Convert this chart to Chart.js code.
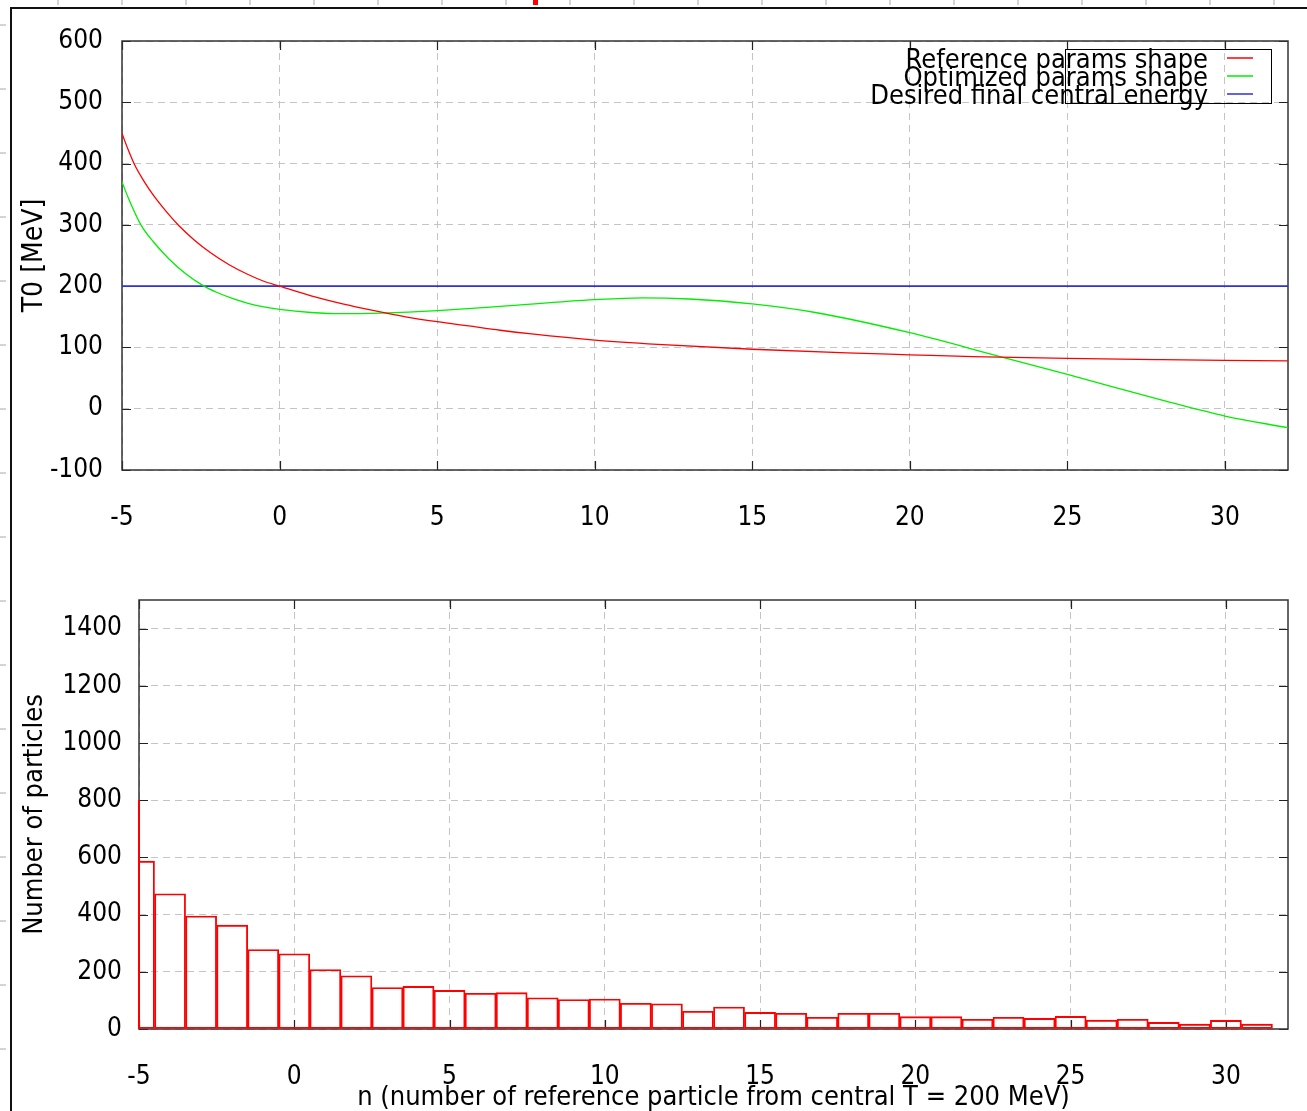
<!DOCTYPE html>
<html>
<head>
<meta charset="utf-8">
<script src="https://cdn.jsdelivr.net/npm/chart.js@4.4.0/dist/chart.umd.min.js"></script>
<style>
  html, body { margin: 0; padding: 0; background: #fff; }
  body { width: 1307px; height: 1111px; position: relative; overflow: hidden; }
  #frame { position: absolute; left: 10px; top: 7px; right: -10px; bottom: -10px;
           border-top: 2px solid #111; border-left: 2px solid #111; }
  #rulerTop { position: absolute; left: 0; top: 0; width: 1307px; height: 5px;
    background: repeating-linear-gradient(90deg, transparent 0, transparent 57px, #d4d4d4 57px, #d4d4d4 59px, transparent 59px, transparent 64px); }
  #rulerLeft { position: absolute; left: 0; top: 0; width: 6px; height: 1111px;
    background: repeating-linear-gradient(180deg, transparent 0, transparent 24px, #d4d4d4 24px, #d4d4d4 26px, transparent 26px, transparent 64px); }
  #mark { position: absolute; left: 533px; top: 0; width: 5px; height: 5px; background: #f00; }
  .box { position: absolute; left: 0; width: 1307px; }
  #top { top: 0; height: 560px; }
  #bottom { top: 560px; height: 551px; }
</style>
</head>
<body>
<div id="rulerTop"></div>
<div id="rulerLeft"></div>
<div id="mark"></div>
<div id="frame"></div>
<div class="box" id="top"><canvas id="shapeChart" width="1307" height="560"></canvas></div>
<div class="box" id="bottom"><canvas id="histChart" width="1307" height="551"></canvas></div>
<script>
// ---- data ----
var xTicks = [-5, 0, 5, 10, 15, 20, 25, 30];
var shapeYTicks = [-100, 0, 100, 200, 300, 400, 500, 600];
var histYTicks = [0, 200, 400, 600, 800, 1000, 1200, 1400];

var refX = [-5, -4.8, -4.6, -4.3, -4, -3.6, -3.2, -2.7, -2.2, -1.6, -1, -0.5, 0, 1, 2, 3, 4, 5, 6, 7, 8, 10, 12, 15, 18, 20, 22, 25, 28, 30, 32];
var refY = [449, 422, 398, 371, 348, 322, 299, 275, 255, 235, 219, 208, 200, 184, 171, 160, 150, 142, 135, 128, 122, 112, 105, 97, 91, 88, 85, 82, 80, 79, 78];

var optX = [-5, -4.8, -4.4, -4, -3.5, -3, -2.4, -2, -1.5, -1, -0.5, 0, 1, 2, 3.2, 5, 7, 10, 11.5, 13, 15, 17, 20, 22.8, 25, 28, 30, 32];
var optY = [370, 344, 300, 272, 244, 221, 200, 190, 180, 172, 166, 162, 157, 155, 156, 160, 167, 178, 181, 179, 171, 157, 124, 86, 56, 14, -12, -31];

var desiredX = [-5, 32];
var desiredY = [200, 200];

var binCenters = [-5, -4, -3, -2, -1, 0, 1, 2, 3, 4, 5, 6, 7, 8, 9, 10, 11, 12, 13, 14, 15, 16, 17, 18, 19, 20, 21, 22, 23, 24, 25, 26, 27, 28, 29, 30, 31];
var binCounts = [587, 473, 395, 363, 278, 263, 208, 186, 145, 149, 135, 125, 127, 109, 103, 105, 90, 88, 62, 77, 58, 55, 41, 55, 55, 43, 43, 34, 41, 37, 44, 31, 34, 23, 17, 30, 17];
var edgeX = [-5, -5];
var edgeY = [0, 800];

var seriesNames = ["Reference params shape", "Optimized params shape", "Desired final central energy"];
var seriesColors = ["#ff0000", "#00ee00", "#3030d8"];

var FONT = "'DejaVu Sans Condensed', 'DejaVu Sans', sans-serif";
Chart.defaults.font.family = FONT;
Chart.defaults.font.size = 26;
Chart.defaults.color = "#000";
Chart.defaults.animation = false;

function pts(xs, ys) {
    return xs.map(function(x, i) { return {x: x, y: ys[i]}; });
}
function setTicks(list) {
    return function(scale) { scale.ticks = list.map(function(v) { return {value: v}; }); };
}
function plain(v) { return String(v); }

// border box + inward tick marks, gnuplot style (drawn under the data)
var frameBox = {
    id: "frameBox",
    beforeDatasetsDraw: function(chart) {
        var ctx = chart.ctx, a = chart.chartArea;
        var xs = chart.scales.x, ys = chart.scales.y, len = 9;
        ctx.save();
        ctx.strokeStyle = "#222";
        ctx.lineWidth = 1.2;
        ctx.beginPath();
        xs.ticks.forEach(function(t) {
            var px = Math.round(xs.getPixelForValue(t.value)) + 0.5;
            ctx.moveTo(px, a.bottom); ctx.lineTo(px, a.bottom - len);
            ctx.moveTo(px, a.top); ctx.lineTo(px, a.top + len);
        });
        ys.ticks.forEach(function(t) {
            var py = Math.round(ys.getPixelForValue(t.value)) + 0.5;
            ctx.moveTo(a.left, py); ctx.lineTo(a.left + len, py);
            ctx.moveTo(a.right, py); ctx.lineTo(a.right - len, py);
        });
        ctx.stroke();
        ctx.strokeStyle = "#333";
        ctx.lineWidth = 1.5;
        ctx.strokeRect(a.left, a.top, a.right - a.left, a.bottom - a.top);
        ctx.restore();
    }
};

// legend drawn like the original key
var keyBox = {
    id: "keyBox",
    afterDraw: function(chart) {
        var ctx = chart.ctx;
        ctx.save();
        ctx.strokeStyle = "#000";
        ctx.lineWidth = 1;
        ctx.strokeRect(1065.5, 49.5, 206, 54);
        ctx.font = "27px " + FONT;
        ctx.textAlign = "right";
        ctx.textBaseline = "middle";
        var rows = [61, 79, 97];
        seriesNames.forEach(function(name, i) {
            ctx.fillStyle = "#000";
            ctx.fillText(name, 1208, rows[i]);
            ctx.strokeStyle = seriesColors[i];
            ctx.lineWidth = 1.5;
            ctx.beginPath();
            ctx.moveTo(1227, rows[i] - 3);
            ctx.lineTo(1253, rows[i] - 3);
            ctx.stroke();
        });
        ctx.restore();
    }
};

var gridStyle = { color: "#c4c4c4", lineWidth: 1, drawTicks: false };
var titleFont = { size: 27, lineHeight: 1 };

new Chart(document.getElementById("shapeChart"), {
    type: "line",
    data: {
        datasets: [
            { label: seriesNames[0], data: pts(refX, refY), borderColor: seriesColors[0], borderWidth: 1.3, cubicInterpolationMode: "monotone", pointRadius: 0 },
            { label: seriesNames[1], data: pts(optX, optY), borderColor: seriesColors[1], borderWidth: 1.3, cubicInterpolationMode: "monotone", pointRadius: 0 },
            { label: seriesNames[2], data: pts(desiredX, desiredY), borderColor: seriesColors[2], borderWidth: 1.8, pointRadius: 0 }
        ]
    },
    options: {
        responsive: false,
        layout: { padding: { top: 41, right: 19, left: 0, bottom: 0 } },
        plugins: { legend: { display: false }, tooltip: { enabled: false } },
        scales: {
            x: {
                type: "linear", min: -5, max: 32,
                afterBuildTicks: setTicks(xTicks),
                afterFit: function(s) { s.height = 90; },
                grid: gridStyle,
                border: { display: false, dash: [7, 5] },
                ticks: { padding: 33, maxRotation: 0, callback: plain }
            },
            y: {
                min: -100, max: 600,
                afterBuildTicks: setTicks(shapeYTicks),
                afterFit: function(s) { s.width = 122; },
                grid: gridStyle,
                border: { display: false, dash: [7, 5] },
                ticks: { padding: 19, callback: plain },
                title: { display: true, text: "T0 [MeV]", font: { size: 28, lineHeight: 1 }, padding: { top: 21, bottom: 0 } }
            }
        }
    },
    plugins: [frameBox, keyBox]
});

new Chart(document.getElementById("histChart"), {
    type: "bar",
    data: {
        datasets: [
            { type: "bar", label: "counts", data: pts(binCenters, binCounts), backgroundColor: "rgba(255,255,255,0)",
              borderColor: "#ff0000", borderWidth: 1.2, borderSkipped: false, barPercentage: 1, categoryPercentage: 1, clip: 0 },
            { type: "line", label: "edge", data: pts(edgeX, edgeY), borderColor: "#ff0000", borderWidth: 2, pointRadius: 0, clip: false }
        ]
    },
    options: {
        responsive: false,
        layout: { padding: { top: 40, right: 19, left: 0, bottom: 0 } },
        plugins: { legend: { display: false }, tooltip: { enabled: false } },
        scales: {
            x: {
                type: "linear", min: -5, max: 32, offset: false,
                afterBuildTicks: setTicks(xTicks),
                afterFit: function(s) { s.height = 82; },
                grid: Object.assign({ offset: false }, gridStyle),
                border: { display: false, dash: [7, 5] },
                ticks: { padding: 33, maxRotation: 0, callback: plain },
                title: { display: true, text: "n (number of reference particle from central T = 200 MeV)", font: titleFont, padding: { top: 0, bottom: 0 } }
            },
            y: {
                min: 0, max: 1500,
                afterBuildTicks: setTicks(histYTicks),
                afterFit: function(s) { s.width = 139; },
                grid: gridStyle,
                border: { display: false, dash: [7, 5] },
                ticks: { padding: 17, callback: plain },
                title: { display: true, text: "Number of particles", font: titleFont, padding: { top: 21, bottom: 0 } }
            }
        }
    },
    plugins: [frameBox]
});
</script>
</body>
</html>
